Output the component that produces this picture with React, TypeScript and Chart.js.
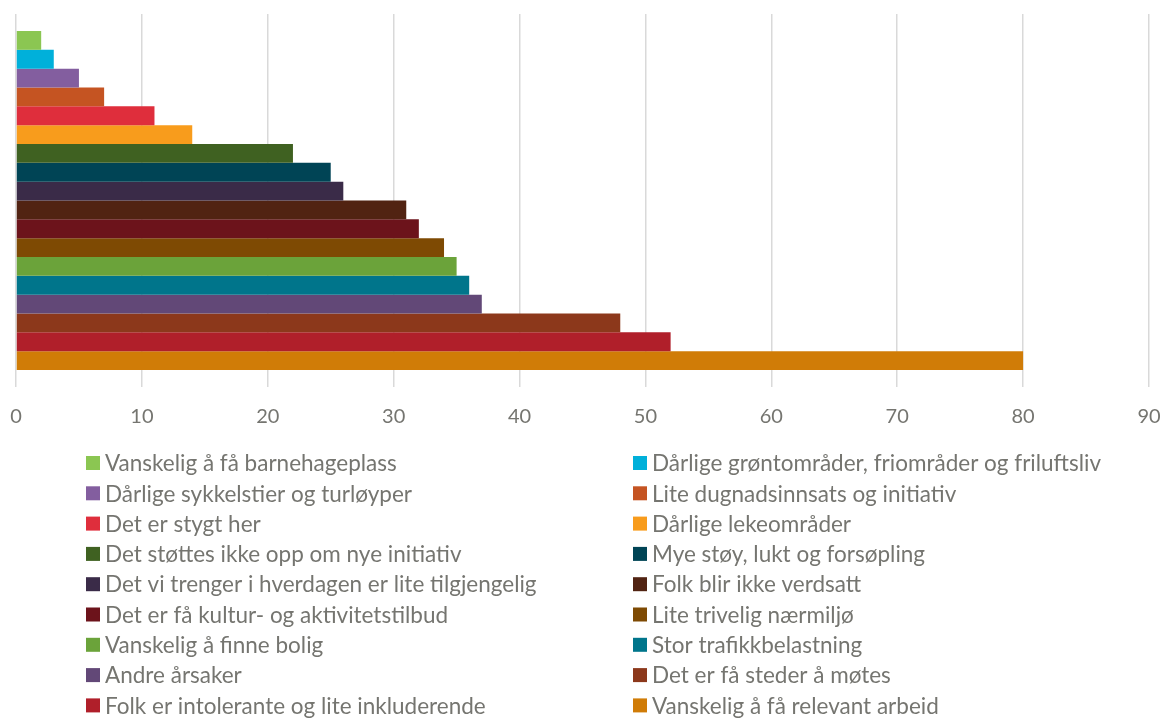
import React, { useEffect, useRef } from "react";
import { Chart, registerables } from "chart.js";

Chart.register(...registerables);

const categories: string[] = [""];

const seriesLabels: string[] = [
  "Vanskelig å få barnehageplass",
  "Dårlige grøntområder, friområder og friluftsliv",
  "Dårlige sykkelstier og turløyper",
  "Lite dugnadsinnsats og initiativ",
  "Det er stygt her",
  "Dårlige lekeområder",
  "Det støttes ikke opp om nye initiativ",
  "Mye støy, lukt og forsøpling",
  "Det vi trenger i hverdagen er lite tilgjengelig",
  "Folk blir ikke verdsatt",
  "Det er få kultur- og aktivitetstilbud",
  "Lite trivelig nærmiljø",
  "Vanskelig å finne bolig",
  "Stor trafikkbelastning",
  "Andre årsaker",
  "Det er få steder å møtes",
  "Folk er intolerante og lite inkluderende",
  "Vanskelig å få relevant arbeid",
];

const seriesValues: number[] = [2, 3, 5, 7, 11, 14, 22, 25, 26, 31, 32, 34, 35, 36, 37, 48, 52, 80];

const seriesColors: string[] = [
  "#8BC652",
  "#00B0DA",
  "#835E9F",
  "#C55422",
  "#DF2E3C",
  "#F89C1C",
  "#3F6121",
  "#004455",
  "#3A2B48",
  "#512312",
  "#6C131B",
  "#7E4A03",
  "#6BA33A",
  "#00758B",
  "#624877",
  "#8C381B",
  "#B01F2A",
  "#D07C07",
];

const xTicks: number[] = [0, 10, 20, 30, 40, 50, 60, 70, 80, 90];

const TEXT_COLOR = "#757570";
const FONT_FAMILY = "Lato, 'Noto Sans', sans-serif";

const legendPlugin = {
  id: "twoColLegend",
  afterDraw(chart: any) {
    const ctx = chart.ctx as CanvasRenderingContext2D;
    const colX = [86, 633];
    const firstY = 463;
    const rowGap = 30.3;
    const box = 14;
    ctx.save();
    ctx.font = `22.5px ${FONT_FAMILY}`;
    ctx.textBaseline = "middle";
    ctx.textAlign = "left";
    chart.data.datasets.forEach((ds: any, i: number) => {
      const col = i % 2;
      const row = Math.floor(i / 2);
      const x = colX[col];
      const y = firstY + row * rowGap;
      ctx.fillStyle = ds.backgroundColor;
      ctx.fillRect(x, y - box / 2, box, box);
      ctx.fillStyle = TEXT_COLOR;
      ctx.fillText(ds.label, x + box + 5, y + 1);
    });
    ctx.restore();
  },
};

export default function App() {
  const canvasRef = useRef<HTMLCanvasElement | null>(null);

  useEffect(() => {
    if (!canvasRef.current) return;
    const chart = new Chart(canvasRef.current, {
      type: "bar",
      data: {
        labels: categories,
        datasets: seriesLabels.map((label, i) => ({
          label,
          data: [seriesValues[i]],
          backgroundColor: seriesColors[i],
          borderWidth: 0,
          categoryPercentage: 0.909,
          barPercentage: 1.0,
        })),
      },
      options: {
        indexAxis: "y",
        animation: false,
        responsive: true,
        maintainAspectRatio: false,
        layout: { padding: { left: 16, right: 15, top: 14, bottom: 0 } },
        plugins: {
          legend: { display: false },
          tooltip: { enabled: false },
        },
        scales: {
          x: {
            type: "linear",
            min: 0,
            max: 90,
            afterBuildTicks: (scale: any) => {
              scale.ticks = xTicks.map((v) => ({ value: v }));
            },
            afterFit: (scale: any) => {
              scale.height = 331;
              scale.paddingLeft = 0;
              scale.paddingRight = 0;
            },
            grid: {
              color: "#d9d9d9",
              lineWidth: 1.5,
              drawTicks: false,
            },
            border: { display: false },
            ticks: {
              color: TEXT_COLOR,
              font: { family: FONT_FAMILY, size: 20 },
              padding: 18,
              maxRotation: 0,
            },
          },
          y: {
            display: false,
          },
        },
      },
      plugins: [legendPlugin],
    });
    return () => chart.destroy();
  }, []);

  return (
    <div style={{ position: "absolute", left: 0, top: 0, width: 1164, height: 718, background: "#ffffff" }}>
      <canvas ref={canvasRef} />
    </div>
  );
}
